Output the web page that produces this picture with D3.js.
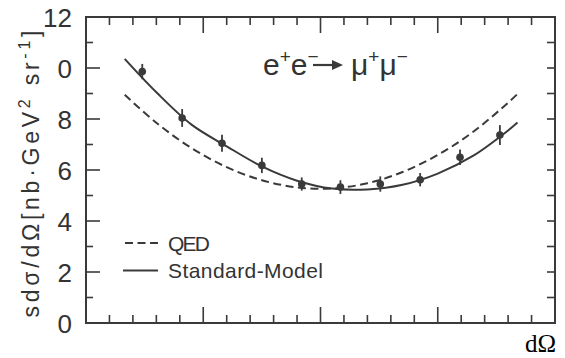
<!DOCTYPE html>
<html>
<head>
<meta charset="utf-8">
<script src="https://cdn.jsdelivr.net/npm/d3@7"></script>
<style>
  html, body { margin: 0; padding: 0; background: #fff; }
  svg { display: block; }
  text { font-family: "Liberation Sans", Arial, sans-serif; fill: #333; }
</style>
</head>
<body>
<svg id="chart" width="565" height="358"></svg>
<script>
// Measured s·dσ/dΩ for e+e- -> mu+mu- in bins of cos(theta)
const cosTheta = [-0.76, -0.59, -0.42, -0.25, -0.08, 0.085, 0.255, 0.425, 0.595, 0.765];
const measured = [9.86, 8.04, 7.05, 6.18, 5.45, 5.33, 5.45, 5.62, 6.50, 7.37];
const errors   = [0.30, 0.35, 0.33, 0.30, 0.26, 0.27, 0.30, 0.26, 0.30, 0.39];

// QED prediction, sampled along cos(theta)
const qedCos   = [-0.835, -0.7, -0.55, -0.4, -0.25, -0.1, 0.05, 0.2, 0.35, 0.5, 0.65, 0.8, 0.85];
const qedCurve = [8.95, 7.85, 6.86, 6.11, 5.60, 5.32, 5.28, 5.48, 5.92, 6.59, 7.49, 8.64, 9.07];

// Standard-Model prediction, sampled along cos(theta)
const smCos   = [-0.835, -0.7, -0.55, -0.4, -0.25, -0.1, 0.05, 0.2, 0.35, 0.5, 0.65, 0.8, 0.84];
const smCurve = [10.36, 9.05, 7.78, 6.93, 6.14, 5.58, 5.27, 5.24, 5.42, 5.86, 6.55, 7.55, 7.86];

// Axis ticks
const yTickValues = [0, 1, 2, 3, 4, 5, 6, 7, 8, 9, 10, 11, 12];
const yLabelValues = [0, 2, 4, 6, 8, 10, 12];
const yLabelTexts  = ["0", "2", "4", "6", "8", "0", "12"];
const xTickValues = d3.range(-10, 11).map(i => i / 10);
const xMajorValues = [-0.5, 0, 0.5];

const ink = "#3a3a3a";
const svg = d3.select("#chart");

const x = d3.scaleLinear().domain([-1, 1]).range([86, 555]);
const y = d3.scaleLinear().domain([0, 12]).range([323, 17]);

// Frame
svg.append("rect")
  .attr("x", x(-1)).attr("y", y(12))
  .attr("width", x(1) - x(-1)).attr("height", y(0) - y(12))
  .attr("fill", "none").attr("stroke", ink).attr("stroke-width", 2);

const isMajorX = v => xMajorValues.some(m => Math.abs(m - v) < 1e-9);

// Inward ticks on all four sides
const ticks = svg.append("g").attr("stroke", ink).attr("stroke-width", 1.6);
xTickValues.filter(v => v > -1 && v < 1).forEach(v => {
  const len = isMajorX(v) ? 16 : 8;
  ticks.append("line").attr("x1", x(v)).attr("x2", x(v)).attr("y1", y(0)).attr("y2", y(0) - len);
  ticks.append("line").attr("x1", x(v)).attr("x2", x(v)).attr("y1", y(12)).attr("y2", y(12) + len);
});
yTickValues.filter(v => v > 0 && v < 12).forEach(v => {
  const len = v % 2 === 0 ? 14 : 7;
  ticks.append("line").attr("y1", y(v)).attr("y2", y(v)).attr("x1", x(-1)).attr("x2", x(-1) + len);
  ticks.append("line").attr("y1", y(v)).attr("y2", y(v)).attr("x1", x(1)).attr("x2", x(1) - 8);
});

// Y tick labels
svg.append("g").selectAll("text")
  .data(yLabelValues)
  .join("text")
  .attr("x", 72)
  .attr("y", d => y(d) + 9.5)
  .attr("text-anchor", "end")
  .attr("font-size", 26)
  .style("font-family", "'Liberation Sans Narrow', 'Liberation Sans', sans-serif")
  .text((d, i) => yLabelTexts[i]);

// Y axis title
const yTitle = svg.append("text")
  .attr("transform", "translate(39,174) rotate(-90)")
  .attr("text-anchor", "middle")
  .attr("font-size", 23);
yTitle.append("tspan").text("sdσ/dΩ[nb·GeV");
yTitle.append("tspan").attr("font-size", 16).attr("dy", -9).text("2");
yTitle.append("tspan").attr("dy", 9).text(" sr");
yTitle.append("tspan").attr("font-size", 16).attr("dy", -9).text("-1");
yTitle.append("tspan").attr("dy", 9).text("]");
yTitle.attr("textLength", 287).attr("lengthAdjust", "spacing");

// Theory curves
const line = d3.line().x(d => x(d[0])).y(d => y(d[1])).curve(d3.curveCatmullRom);
svg.append("path")
  .datum(qedCos.map((c, i) => [c, qedCurve[i]]))
  .attr("d", line)
  .attr("fill", "none").attr("stroke", ink).attr("stroke-width", 2)
  .attr("stroke-dasharray", "8,4.5");
svg.append("path")
  .datum(smCos.map((c, i) => [c, smCurve[i]]))
  .attr("d", line)
  .attr("fill", "none").attr("stroke", ink).attr("stroke-width", 2);

// Data points with error bars
const pts = svg.append("g");
cosTheta.forEach((c, i) => {
  pts.append("line")
    .attr("x1", x(c)).attr("x2", x(c))
    .attr("y1", y(measured[i] - errors[i])).attr("y2", y(measured[i] + errors[i]))
    .attr("stroke", ink).attr("stroke-width", 1.8);
  pts.append("circle")
    .attr("cx", x(c)).attr("cy", y(measured[i])).attr("r", 3.8)
    .attr("fill", ink);
});

// Process label
const proc = svg.append("text").attr("x", 263).attr("y", 75).attr("font-size", 30);
proc.append("tspan").text("e");
proc.append("tspan").attr("font-size", 19).attr("dy", -12).text("+");
proc.append("tspan").attr("dy", 12).text("e");
proc.append("tspan").attr("font-size", 19).attr("dy", -12).text("−");
svg.append("line")
  .attr("x1", 313).attr("x2", 334).attr("y1", 65).attr("y2", 65)
  .attr("stroke", ink).attr("stroke-width", 2.2);
svg.append("path")
  .attr("d", d3.line()([[332, 60], [343, 65], [332, 70]]) + "Z")
  .attr("fill", ink);
const proc2 = svg.append("text").attr("x", 351).attr("y", 75).attr("font-size", 30);
proc2.append("tspan").text("μ");
proc2.append("tspan").attr("font-size", 19).attr("dy", -12).text("+");
proc2.append("tspan").attr("dy", 12).text("μ");
proc2.append("tspan").attr("font-size", 19).attr("dy", -12).text("−");

// Legend
const legend = svg.append("g");
legend.append("line")
  .attr("x1", 125).attr("x2", 158).attr("y1", 243).attr("y2", 243)
  .attr("stroke", ink).attr("stroke-width", 2).attr("stroke-dasharray", "8,4.5");
legend.append("line")
  .attr("x1", 123).attr("x2", 158).attr("y1", 270.5).attr("y2", 270.5)
  .attr("stroke", ink).attr("stroke-width", 2);
legend.append("text").attr("x", 168).attr("y", 250.5).attr("font-size", 21)
  .attr("textLength", 42).attr("lengthAdjust", "spacing").text("QED");
legend.append("text").attr("x", 168).attr("y", 278).attr("font-size", 21)
  .attr("textLength", 155).attr("lengthAdjust", "spacing").text("Standard-Model");

// Corner annotation
svg.append("text")
  .attr("x", 525).attr("y", 352)
  .attr("font-size", 25)
  .style("font-family", "'Liberation Serif', 'Times New Roman', serif")
  .style("fill", "#000")
  .text("dΩ");
</script>
</body>
</html>
